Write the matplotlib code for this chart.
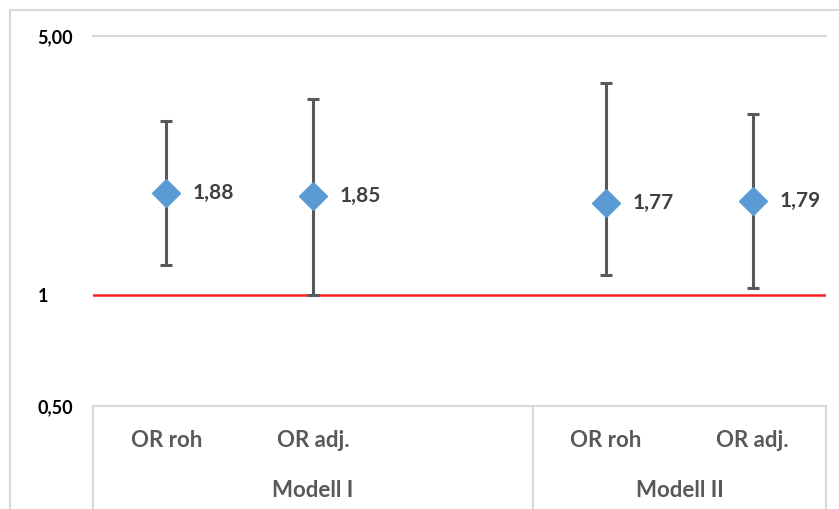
import numpy as np
import matplotlib.pyplot as plt
from matplotlib.lines import Line2D
from matplotlib.patches import Rectangle

# odds ratios with 95% confidence limits
categories = ["OR roh", "OR adj.", "OR roh", "OR adj."]
groups = ["Modell I", "Modell II"]
positions = [0, 1, 3, 4]
odds_ratio = [1.88, 1.85, 1.77, 1.79]
ci_lower = [1.20, 1.00, 1.13, 1.04]
ci_upper = [2.95, 3.38, 3.74, 3.07]
y_ticks = [0.5, 1, 5]
y_tick_labels = ["0,50", "1", "5,00"]

plt.rcParams['font.family'] = ['Lato', 'DejaVu Sans']

W, H = 839, 509
fig = plt.figure(figsize=(W / 100, H / 100), dpi=100)
left, right, top, bottom = 93, 826, 36, 406
ax = fig.add_axes([left / W, 1 - bottom / H, (right - left) / W, (bottom - top) / H])

# light frame around the chart area
fig.patches.append(Rectangle((10 / W, -0.1), 1.2, 1 - 10 / H + 0.1, transform=fig.transFigure,
                             fill=False, edgecolor="#D9D9D9", linewidth=1.5))

y = np.array(odds_ratio)
yerr = [y - np.array(ci_lower), np.array(ci_upper) - y]
ax.errorbar(positions, y, yerr=yerr, fmt='none', ecolor="#595959", elinewidth=2.2,
            capsize=4, capthick=2.2, zorder=3)
ax.plot(positions, y, linestyle='none', marker='D', markersize=14.5,
        color="#5B9BD5", markeredgecolor="#5B9BD5", zorder=4)

for xp, v in zip(positions, odds_ratio):
    ax.annotate(f"{v:.2f}".replace(".", ","), (xp, v), xytext=(19, 0),
                textcoords='offset points', va='center', ha='left',
                fontsize=15, fontweight='bold', color="#404040")

ax.axhline(1, color="#FF2020", linewidth=1.8, zorder=2)

ax.set_yscale('log')
ax.set_ylim(0.5, 5)
ax.set_xlim(-0.5, 4.5)
ax.set_yticks(y_ticks)
ax.set_yticklabels(y_tick_labels)
ax.yaxis.set_minor_locator(plt.NullLocator())
ax.tick_params(axis='y', length=0, pad=40, labelsize=13, labelcolor='black')
for lab in ax.get_yticklabels():
    lab.set_horizontalalignment('left')
    lab.set_fontweight('bold')
ax.set_xticks([])

for s in ax.spines.values():
    s.set_visible(False)
ax.axhline(5, color="#D9D9D9", linewidth=1.5, zorder=1, clip_on=False)
ax.axhline(0.5, color="#D9D9D9", linewidth=1.5, zorder=1, clip_on=False)

# two-level category axis
trans = ax.get_xaxis_transform()
depth = (H - bottom) / (bottom - top) + 0.02
for xs in [-0.5, 2.5, 4.5]:
    ax.add_line(Line2D([xs, xs], [0, -depth], transform=trans, color="#D9D9D9",
                       linewidth=1.5, clip_on=False))
for xp, c in zip(positions, categories):
    ax.text(xp, -0.092, c, transform=trans, ha='center', va='center',
            fontsize=16, fontweight='bold', color="#595959")
for xc, g in zip([1.0, 3.5], groups):
    ax.text(xc, -0.228, g, transform=trans, ha='center', va='center',
            fontsize=16, fontweight='bold', color="#595959")

fig.savefig("out.png", dpi=100)
